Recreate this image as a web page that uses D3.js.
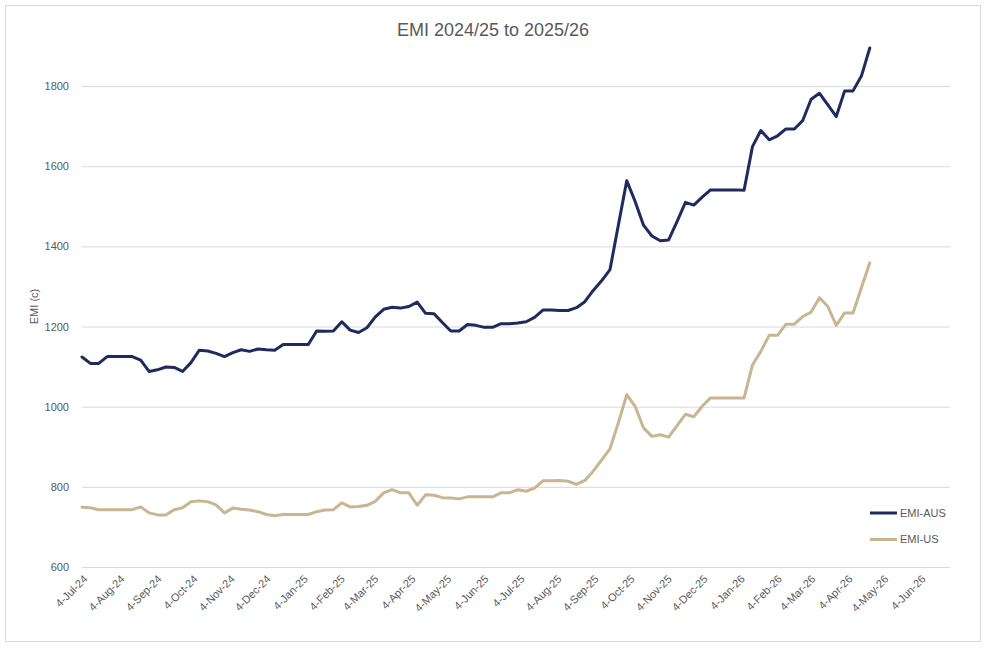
<!DOCTYPE html>
<html>
<head>
<meta charset="utf-8">
<script src="https://cdn.jsdelivr.net/npm/d3@7"></script>
<style>
  html, body { margin: 0; padding: 0; background: #ffffff; }
  svg { display: block; }
  text { font-family: "Liberation Sans", Arial, sans-serif; fill: #595959; }
</style>
</head>
<body>
<svg id="chart" width="987" height="648"></svg>
<script>
// ---- data (weekly observations, starting 4-Jul-24) ----
const startDate = "2024-07-04";
const seriesNames = ["EMI-AUS", "EMI-US"];
const emiAus = [
  1124, 1108, 1108, 1125, 1125, 1125, 1125, 1116, 1088, 1092,
  1099, 1098, 1088, 1110, 1141, 1139, 1133, 1125, 1135, 1142,
  1138, 1144, 1142, 1141, 1155, 1155, 1155, 1155, 1189, 1188,
  1189, 1212, 1191, 1185, 1197, 1224, 1243, 1248, 1246, 1250,
  1261, 1233, 1232, 1210, 1189, 1189, 1205, 1203, 1198, 1198,
  1207, 1207, 1209, 1212, 1223, 1241, 1241, 1240, 1240, 1247,
  1262, 1290, 1314, 1342, 1453, 1564, 1512, 1453, 1426, 1414,
  1416, 1462, 1510, 1503, 1523, 1541, 1541, 1541, 1541, 1540,
  1649, 1689, 1666, 1676, 1693, 1693, 1714, 1767, 1782, 1753,
  1724, 1788, 1788, 1825, 1895
];
const emiUs = [
  749, 748, 743, 743, 743, 743, 743, 750, 735, 730,
  730, 743, 748, 763, 765, 763, 755, 735, 747, 744,
  742, 738, 731, 728, 731, 731, 731, 731, 738, 742,
  743, 760, 750, 751, 754, 764, 785, 793, 785, 785,
  754, 780, 779, 773, 772, 770, 775, 775, 775, 775,
  785, 785, 793, 789, 797, 815, 815, 816, 814, 806,
  816, 839, 867, 895, 960, 1030, 1001, 947, 926, 930,
  924, 953, 981, 975, 1001, 1022, 1022, 1022, 1022, 1022,
  1104, 1138, 1178, 1178, 1206, 1206, 1225, 1236, 1272, 1250,
  1203, 1234, 1234, 1297, 1359
];
const yTicks = [600, 800, 1000, 1200, 1400, 1600, 1800];
const xTickLabels = [
  "4-Jul-24","4-Aug-24","4-Sep-24","4-Oct-24","4-Nov-24","4-Dec-24",
  "4-Jan-25","4-Feb-25","4-Mar-25","4-Apr-25","4-May-25","4-Jun-25",
  "4-Jul-25","4-Aug-25","4-Sep-25","4-Oct-25","4-Nov-25","4-Dec-25",
  "4-Jan-26","4-Feb-26","4-Mar-26","4-Apr-26","4-May-26","4-Jun-26"
];
const titleText = "EMI 2024/25 to 2025/26";
const yAxisTitle = "EMI (c)";
const colors = ["#1f2a5e", "#c9b591"];

// ---- build ----
const parse = d3.timeParse("%Y-%m-%d");
const parseLabel = d3.timeParse("%d-%b-%y");
const fmt = d3.timeFormat("%-d-%b-%y");
const t0 = parse(startDate);
const dates = emiAus.map((_, i) => d3.timeDay.offset(t0, 7 * i));
const tickDates = xTickLabels.map(s => parseLabel(s));

const svg = d3.select("#chart");
const W = 987, H = 648;
const plot = { left: 82, right: 950, top: 46, bottom: 567 };

// outer frame
svg.append("rect")
  .attr("x", 5.5).attr("y", 5.5)
  .attr("width", 975).attr("height", 636)
  .attr("fill", "#fff").attr("stroke", "#d9d9d9").attr("stroke-width", 1);

const x = d3.scaleTime()
  .domain([t0, parse("2026-06-29")])
  .range([plot.left, plot.right]);
const y = d3.scaleLinear()
  .domain([600, 1900])
  .range([plot.bottom, plot.top]);

// gridlines
const yAxis = d3.axisLeft(y).tickValues(yTicks)
  .tickSize(-(plot.right - plot.left)).tickPadding(13).tickFormat(d3.format("d"));
const gy = svg.append("g")
  .attr("transform", `translate(${plot.left},0)`)
  .call(yAxis);
gy.select(".domain").remove();
gy.selectAll(".tick line").attr("stroke", "#d9d9d9").attr("stroke-width", 1);
gy.selectAll(".tick text")
  .attr("fill", "#595959")
  .style("font-size", "11px")
  .style("font-family", "Liberation Sans, Arial, sans-serif");

// x axis labels
const xAxis = d3.axisBottom(x).tickValues(tickDates).tickSize(0).tickFormat(fmt);
const gx = svg.append("g")
  .attr("transform", `translate(0,${plot.bottom})`)
  .call(xAxis);
gx.select(".domain").remove();
gx.selectAll(".tick text")
  .attr("fill", "#595959")
  .style("font-size", "11px")
  .style("font-family", "Liberation Sans, Arial, sans-serif")
  .attr("text-anchor", "end")
  .attr("x", 3).attr("y", 10).attr("dy", "0.35em")
  .attr("transform", "rotate(-45, 3, 10)");

// lines
const seriesData = [emiAus, emiUs];
const line = d3.line()
  .x((d, i) => x(dates[i]))
  .y(d => y(d));
seriesData.forEach((vals, k) => {
  svg.append("path")
    .datum(vals)
    .attr("fill", "none")
    .attr("stroke", colors[k])
    .attr("stroke-width", 3)
    .attr("stroke-linejoin", "round")
    .attr("stroke-linecap", "round")
    .attr("d", line);
});

// title
svg.append("text")
  .attr("x", 493).attr("y", 36)
  .attr("text-anchor", "middle")
  .style("font-size", "18px")
  .text(titleText);

// y axis title
svg.append("text")
  .attr("transform", `translate(38,${(plot.top + plot.bottom) / 2}) rotate(-90)`)
  .attr("text-anchor", "middle")
  .style("font-size", "11px")
  .text(yAxisTitle);

// legend
const legend = svg.append("g");
seriesNames.forEach((name, k) => {
  const ly = 513 + k * 26.5;
  legend.append("line")
    .attr("x1", 870).attr("x2", 897)
    .attr("y1", ly).attr("y2", ly)
    .attr("stroke", colors[k]).attr("stroke-width", 3);
  legend.append("text")
    .attr("x", 900).attr("y", ly).attr("dy", "0.35em")
    .style("font-size", "11px")
    .text(name);
});
</script>
</body>
</html>
